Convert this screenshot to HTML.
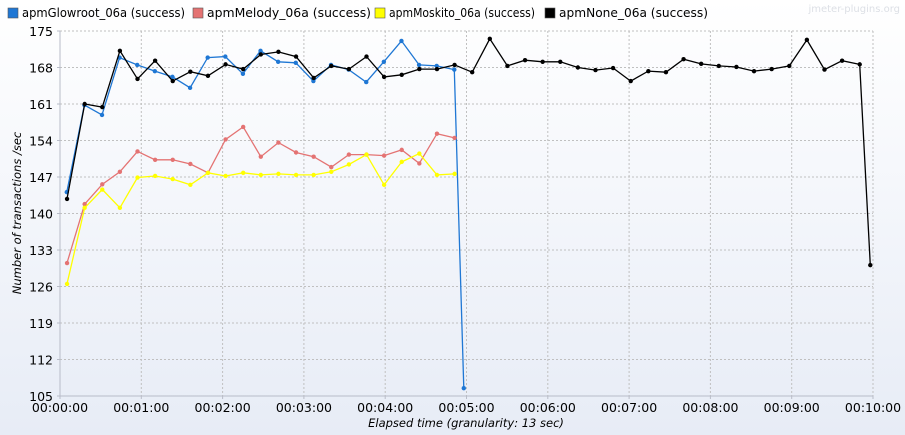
<!DOCTYPE html>
<html><head><meta charset="utf-8">
<style>
html,body{margin:0;padding:0;}
body{width:905px;height:435px;overflow:hidden;background:linear-gradient(#ffffff,#e7ecf6);font-family:"DejaVu Sans","Liberation Sans",sans-serif;}
svg{display:block;}
</style></head>
<body>
<svg id="chart" width="905" height="435" xmlns="http://www.w3.org/2000/svg">
<g id="legend"></g>
<text x="900" y="12" font-size="10" fill="#dde0e6" text-anchor="end">jmeter-plugins.org</text>
<g id="grid"></g>
<g id="axes"></g>
<g id="series"></g>
<text x="466" y="427" font-size="11.5" font-style="italic" text-anchor="middle" fill="#000">Elapsed time (granularity: 13 sec)</text>
<text transform="translate(21,213) rotate(-90)" font-size="11.5" font-style="italic" text-anchor="middle" fill="#000">Number of transactions /sec</text>
</svg>
<script>
const seriesNames=["apmGlowroot_06a (success)","apmMelody_06a (success)","apmMoskito_06a (success)","apmNone_06a (success)"];
const seriesColors=["#1f77d4","#e47373","#ffff00","#000000"];
const yTicks=[105,112,119,126,133,140,147,154,161,168,175];
const xTickLabels=["00:00:00","00:01:00","00:02:00","00:03:00","00:04:00","00:05:00","00:06:00","00:07:00","00:08:00","00:09:00","00:10:00"];
const glowroot=[144.1,160.8,158.9,169.9,168.5,167.3,166.2,164.1,169.9,170.1,166.8,171.2,169.1,168.9,165.4,168.5,167.6,165.2,169.1,173.1,168.5,168.3,167.6,106.5];
const glowrootTimes=[5,18,31,44,57,70,83,96,109,122,135,148,161,174,187,200,213,226,239,252,265,278,291,298];
const melody=[130.5,141.8,145.6,148.0,151.9,150.3,150.3,149.5,147.8,154.2,156.6,150.9,153.6,151.7,150.9,148.9,151.3,151.3,151.1,152.2,149.6,155.3,154.5];
const moskito=[126.5,141.1,144.6,141.1,146.9,147.2,146.6,145.5,147.8,147.2,147.8,147.4,147.6,147.4,147.4,148.0,149.4,151.3,145.5,149.9,151.5,147.4,147.6];
const none=[142.8,161.0,160.4,171.2,165.8,169.3,165.4,167.2,166.4,168.6,167.7,170.5,171.0,170.1,166.0,168.3,167.7,170.1,166.2,166.6,167.7,167.7,168.5,167.1,173.5,168.3,169.4,169.1,169.1,168.0,167.5,167.9,165.4,167.3,167.1,169.6,168.7,168.3,168.1,167.3,167.7,168.3,173.3,167.6,169.3,168.6,130.1];
const noneLastTime=598;

const NS="http://www.w3.org/2000/svg";
const L=60,R=873,T=31,B=396,XMAX=600,YMIN=105,YMAX=175;
const xs=t=>L+(t/XMAX)*(R-L);
const ys=v=>B-(v-YMIN)/(YMAX-YMIN)*(B-T);
function mk(tag,attrs,parent){const e=document.createElementNS(NS,tag);for(const k in attrs)e.setAttribute(k,attrs[k]);parent.appendChild(e);return e;}
const grid=document.getElementById('grid'),axes=document.getElementById('axes'),ser=document.getElementById('series'),leg=document.getElementById('legend');

yTicks.forEach(v=>{
  if(v>YMIN){const g=mk('line',{x1:L,x2:R,y1:ys(v),y2:ys(v),stroke:'#c0c0c0','stroke-dasharray':'2,2'},grid);
  }
  const tk=mk('line',{x1:L-3,x2:L,y1:ys(v),y2:ys(v),stroke:'#b8bcc8'},axes);
  
  const t=mk('text',{x:L-7,y:ys(v)+5,'font-size':12.5,'text-anchor':'end',fill:'#000'},axes);t.textContent=v;
  
});
xTickLabels.forEach((s,i)=>{
  const x=xs(i*60);
  if(i>0){const g=mk('line',{x1:x,x2:x,y1:T,y2:B,stroke:'#c0c0c0','stroke-dasharray':'2,2'},grid);
  }
  const tk=mk('line',{x1:x,x2:x,y1:B,y2:B+3,stroke:'#b8bcc8'},axes);
  
  const t=mk('text',{x:x,y:B+16,'font-size':12.5,'text-anchor':'middle',fill:'#000'},axes);t.textContent=s;
  
});
const ax1=mk('line',{x1:L,x2:L,y1:T,y2:B,stroke:'#b8bcc8'},axes);
const ax2=mk('line',{x1:L,x2:R,y1:B,y2:B,stroke:'#b8bcc8'},axes);

const defTimes=n=>Array.from({length:n},(_,i)=>5.2+13*i);
const noneTimes=defTimes(none.length-1).concat([noneLastTime]);
const all=[[glowroot,glowrootTimes],[melody,defTimes(melody.length)],[moskito,defTimes(moskito.length)],[none,noneTimes]];
all.forEach(([vals,times],si)=>{
  const g=mk('g',{},ser);
  const pts=vals.map((v,i)=>xs(times[i]).toFixed(1)+','+ys(v).toFixed(1)).join(' ');
  const pl=mk('polyline',{points:pts,fill:'none',stroke:seriesColors[si],'stroke-width':1.3},g);
  
  vals.forEach((v,i)=>{const c=mk('circle',{cx:xs(times[i]),cy:ys(v),r:2.2,fill:seriesColors[si]},g);
    });
});

const legX=[8,193,375,545];
const legW=[163,164,146,149];
seriesNames.forEach((n,i)=>{
  const lx=legX[i];
  const r=mk('rect',{x:lx,y:8,width:10,height:10,fill:seriesColors[i],stroke:'#555','stroke-width':0.6},leg);
  
  const t=mk('text',{x:lx+14,y:17,'font-size':12,fill:'#000',textLength:legW[i],lengthAdjust:'spacingAndGlyphs'},leg);t.textContent=n;
  
});
</script>
</body></html>
